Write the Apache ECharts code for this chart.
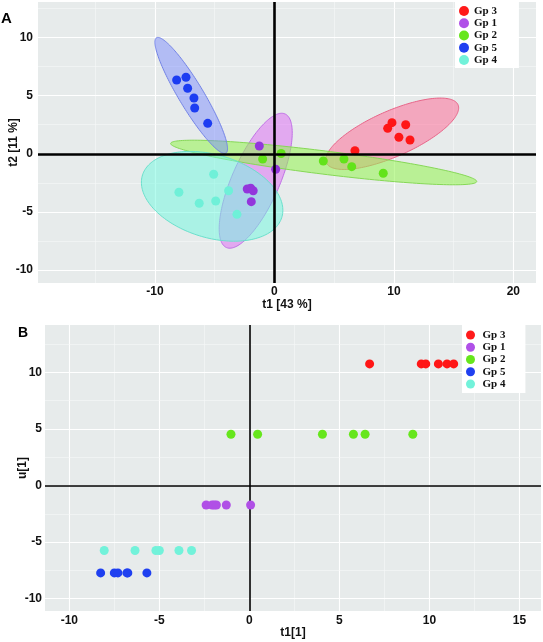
<!DOCTYPE html>
<html><head><meta charset="utf-8">
<script src="https://cdn.jsdelivr.net/npm/echarts@6/dist/echarts.min.js"></script>
<style>html,body{margin:0;padding:0;background:#fff}#c{width:543px;height:642px}</style>
</head><body><div id="c"></div>
<script>
// ---------- data ----------
const groups = ['Gp 3', 'Gp 1', 'Gp 2', 'Gp 5', 'Gp 4'];

// Panel A : score plot t1 / t2
const gp3A_t1 = [6.74, 9.48, 9.84, 10.99, 10.42, 11.35];
const gp3A_t2 = [0.27, 2.19, 2.68, 2.50, 1.42, 1.19];
const gp1A_t1 = [-1.27, -2.28, -1.99, -1.78, -1.94, 0.10];
const gp1A_t2 = [0.67, -3.03, -2.97, -3.18, -4.12, -1.33];
const gp2A_t1 = [-0.99, 0.56, 4.09, 5.82, 6.47, 9.11];
const gp2A_t2 = [-0.45, 0.02, -0.62, -0.45, -1.11, -1.68];
const gp5A_t1 = [-8.19, -7.41, -7.27, -6.74, -6.68, -5.59];
const gp5A_t2 = [6.35, 6.58, 5.64, 4.80, 3.94, 2.62];
const gp4A_t1 = [-8.00, -6.30, -5.09, -4.92, -3.84, -3.14];
const gp4A_t2 = [-3.31, -4.26, -1.76, -4.06, -3.18, -5.21];

// confidence ellipses (data units): [centre t1, centre t2, semi-axis 1, semi-axis 2, angle deg]
const ellGp3 = [9.86, 1.72, 6.05, 1.95, 24.5];
const ellGp1 = [-1.57, -2.32, 6.25, 2.0, 67];
const ellGp2 = [4.12, -0.75, 12.92, 1.0, -7.3];
const ellGp5 = [-6.97, 5.02, 5.75, 1.05, 120.3];
const ellGp4 = [-5.22, -3.66, 6.11, 3.56, -17.6];

// Panel B : t1[1] / u[1]
const gp3B_t1 = [6.68, 9.55, 9.80, 10.50, 10.98, 11.35];
const gp3B_u = [10.76, 10.76, 10.76, 10.76, 10.76, 10.76];
const gp1B_t1 = [-2.40, -2.07, -1.95, -1.83, -1.28, 0.07];
const gp1B_u = [-1.72, -1.72, -1.72, -1.72, -1.72, -1.72];
const gp2B_t1 = [-1.02, 0.46, 4.06, 5.78, 6.43, 9.08];
const gp2B_u = [4.54, 4.54, 4.54, 4.54, 4.54, 4.54];
const gp5B_t1 = [-8.26, -7.50, -7.30, -6.80, -6.75, -5.69];
const gp5B_u = [-7.73, -7.73, -7.73, -7.73, -7.73, -7.73];
const gp4B_t1 = [-8.06, -6.35, -5.19, -5.00, -3.91, -3.21];
const gp4B_u = [-5.75, -5.75, -5.75, -5.75, -5.75, -5.75];

// ticks
const ticksAx = [-10, 0, 10, 20];
const minorAx = [-15, -5, 5, 15];
const ticksAy = [-10, -5, 0, 5, 10];
const minorAy = [-7.5, -2.5, 2.5, 7.5, 12.5];
const ticksBx = [-10, -5, 0, 5, 10, 15];
const minorBx = [-7.5, -2.5, 2.5, 7.5, 12.5];
const ticksBy = [-10, -5, 0, 5, 10];
const minorBy = [-7.5, -2.5, 2.5, 7.5, 12.5];

// ---------- styling ----------
const ptColA = {'Gp 3':'#ff1616','Gp 1':'#9336dc','Gp 2':'#62e31a','Gp 5':'#1c3cf2','Gp 4':'#6ff0d8'};
const ptColB = {'Gp 3':'#ff1616','Gp 1':'#b050e6','Gp 2':'#66e61c','Gp 5':'#1f40f0','Gp 4':'#72f2da'};
const legCol = {'Gp 3':'#ff1a1a','Gp 1':'#b050e8','Gp 2':'#66e61c','Gp 5':'#2040f0','Gp 4':'#72f2da'};
const ellStyle = {
  'Gp 3': ['rgba(255,105,150,0.52)', '#e86488'],
  'Gp 1': ['rgba(222,110,245,0.52)', '#c070e6'],
  'Gp 2': ['rgba(150,245,85,0.57)', '#86d856'],
  'Gp 5': ['rgba(120,135,255,0.47)', '#7282e6'],
  'Gp 4': ['rgba(115,250,225,0.52)', '#6ae0cc']
};

const zip = (xs, ys) => xs.map((x, i) => [x, ys[i]]);
const seriesA = {
  'Gp 3': zip(gp3A_t1, gp3A_t2), 'Gp 1': zip(gp1A_t1, gp1A_t2), 'Gp 2': zip(gp2A_t1, gp2A_t2),
  'Gp 5': zip(gp5A_t1, gp5A_t2), 'Gp 4': zip(gp4A_t1, gp4A_t2)
};
const seriesB = {
  'Gp 3': zip(gp3B_t1, gp3B_u), 'Gp 1': zip(gp1B_t1, gp1B_u), 'Gp 2': zip(gp2B_t1, gp2B_u),
  'Gp 5': zip(gp5B_t1, gp5B_u), 'Gp 4': zip(gp4B_t1, gp4B_u)
};
const ellipses = {'Gp 3': ellGp3, 'Gp 1': ellGp1, 'Gp 2': ellGp2, 'Gp 5': ellGp5, 'Gp 4': ellGp4};

function ellipseSeries(name, par) {
  return {
    type: 'custom', name: name + ' ellipse', xAxisIndex: 0, yAxisIndex: 0, z: 3, silent: true,
    data: [[par[0], par[1]]],
    renderItem: function (p, api) {
      const th = par[4] * Math.PI / 180, pts = [];
      for (let i = 0; i < 180; i++) {
        const t = i / 180 * 2 * Math.PI;
        const x = par[0] + par[2] * Math.cos(th) * Math.cos(t) - par[3] * Math.sin(th) * Math.sin(t);
        const y = par[1] + par[2] * Math.sin(th) * Math.cos(t) + par[3] * Math.cos(th) * Math.sin(t);
        pts.push(api.coord([x, y]));
      }
      return {type: 'polygon', shape: {points: pts},
        style: {fill: ellStyle[name][0], stroke: ellStyle[name][1], lineWidth: 1}};
    }
  };
}

function gridLines(xi, majX, minX, majY, minY) {
  const d = [];
  majX.forEach(v => d.push({xAxis: v, lineStyle: {color: '#ffffff', width: 1.1, type: 'solid'}}));
  minX.forEach(v => d.push({xAxis: v, lineStyle: {color: '#f7f8f8', width: 0.6, type: 'solid'}}));
  majY.forEach(v => d.push({yAxis: v, lineStyle: {color: '#ffffff', width: 1.1, type: 'solid'}}));
  minY.forEach(v => d.push({yAxis: v, lineStyle: {color: '#f7f8f8', width: 0.6, type: 'solid'}}));
  return {type: 'line', name: 'grid' + xi, xAxisIndex: xi, yAxisIndex: xi, data: [], silent: true, z: 1,
    markLine: {silent: true, symbol: ['none', 'none'], label: {show: false}, z: 1, animation: false, data: d}};
}
function zeroLines(xi, w, z) {
  return {type: 'line', name: 'zero' + xi, xAxisIndex: xi, yAxisIndex: xi, data: [], silent: true, z: z,
    markLine: {silent: true, symbol: ['none', 'none'], label: {show: false}, z: z, animation: false,
      lineStyle: {color: '#000', width: w, type: 'solid'},
      data: [{xAxis: 0}, {yAxis: 0}]}};
}

const tickFont = {fontFamily: 'Liberation Sans, Arial, sans-serif', fontWeight: 'bold', fontSize: 12, color: '#111'};
const nameFont = {fontFamily: 'Liberation Sans, Arial, sans-serif', fontWeight: 'bold', fontSize: 12, color: '#111'};

function valAxis(gi, min, max, ticks, name, gap, margin) {
  return {
    type: 'value', gridIndex: gi, min: min, max: max,
    axisLine: {show: false}, splitLine: {show: false},
    axisTick: {show: true, customValues: ticks, length: 3, lineStyle: {color: '#555', width: 1}},
    axisLabel: Object.assign({customValues: ticks, margin: margin}, tickFont),
    name: name, nameLocation: 'middle', nameGap: gap, nameMoveOverlap: false, nameTextStyle: nameFont
  };
}

const series = [gridLines(0, ticksAx, minorAx, ticksAy, minorAy), gridLines(1, ticksBx, minorBx, ticksBy, minorBy)];
groups.forEach(g => series.push(ellipseSeries(g, ellipses[g])));
series.push(zeroLines(0, 2.6, 12));
series.push(zeroLines(1, 1.6, 4));
groups.forEach(g => series.push({type: 'scatter', name: g, xAxisIndex: 0, yAxisIndex: 0, z: 10,
  symbolSize: 9, itemStyle: {color: ptColA[g], opacity: 1}, data: seriesA[g]}));
groups.forEach(g => series.push({type: 'scatter', name: g, xAxisIndex: 1, yAxisIndex: 1, z: 10,
  symbolSize: 9, itemStyle: {color: ptColB[g], opacity: 1}, data: seriesB[g]}));

const legendFont = {fontFamily: 'Liberation Serif, Times New Roman, serif', fontWeight: 'bold', fontSize: 11, lineHeight: 12, color: '#111'};
function legend(left, top, iw, ih, pad) {
  return {
    orient: 'vertical', left: left, top: top, itemWidth: iw, itemHeight: ih, itemGap: 0.25,
    backgroundColor: '#ffffff', padding: pad, selectedMode: false, textStyle: legendFont,
    data: groups.map(g => ({name: g, icon: 'circle', itemStyle: {color: legCol[g]}}))
  };
}

const option = {
  animation: false,
  backgroundColor: '#ffffff',
  title: [
    {text: 'A', left: 1, top: 11, padding: 0, textStyle: {fontFamily: 'Liberation Sans, Arial, sans-serif', fontWeight: 'bold', fontSize: 15, color: '#000'}},
    {text: 'B', left: 18, top: 326, padding: 0, textStyle: {fontFamily: 'Liberation Sans, Arial, sans-serif', fontWeight: 'bold', fontSize: 14, color: '#000'}}
  ],
  grid: [
    {left: 38, top: 2, width: 498, height: 281, show: true, backgroundColor: '#e7ebeb', borderWidth: 0, containLabel: false, outerBoundsMode: 'none'},
    {left: 45, top: 325, width: 496, height: 286, show: true, backgroundColor: '#e7ebeb', borderWidth: 0, containLabel: false, outerBoundsMode: 'none'}
  ],
  xAxis: [
    valAxis(0, -19.8, 21.9, ticksAx, 't1 [43 %]', 16, 3),
    valAxis(1, -11.35, 16.2, ticksBx, 't1[1]', 16, 4)
  ],
  yAxis: [
    valAxis(0, -11.12, 13.06, ticksAy, 't2 [11 %]', 18, 5),
    valAxis(1, -11.1, 14.2, ticksBy, 'u[1]', 16, 3)
  ],
  legend: [
    legend(455, 0, 10, 10, [5, 22, 2, 4]),
    legend(462, 325, 14, 9, [4, 20, 3, 4])
  ],
  series: series
};
const chart = echarts.init(document.getElementById('c'), null, {renderer: 'canvas'});
chart.setOption(option);
</script></body></html>
